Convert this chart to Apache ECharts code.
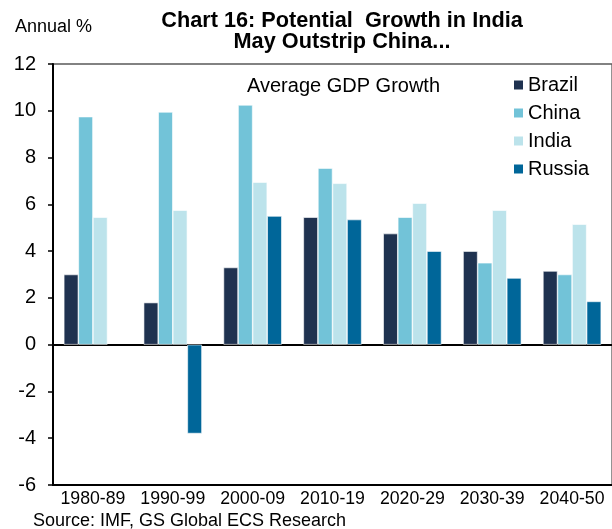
<!DOCTYPE html>
<html>
<head>
<meta charset="utf-8">
<script src="https://cdn.jsdelivr.net/npm/echarts@6/dist/echarts.min.js"></script>
<style>
  html, body { margin: 0; padding: 0; background: #fff; }
  #chart { width: 612px; height: 529px; }
</style>
</head>
<body>
<div id="chart"></div>
<script>
// Decades shown on the category axis
const periods = ['1980-89', '1990-99', '2000-09', '2010-19', '2020-29', '2030-39', '2040-50'];

// Average annual GDP growth, %
const brazil = [3.0, 1.8, 3.3, 5.45, 4.75, 4.0, 3.15];
const china  = [9.75, 9.95, 10.25, 7.55, 5.45, 3.5, 3.0];
const india  = [5.45, 5.75, 6.95, 6.9, 6.05, 5.75, 5.15];
const russia = [null, -3.8, 5.5, 5.35, 4.0, 2.85, 1.85];

// Value axis range and step
const yMin = -6;
const yMax = 12;
const yStep = 2;

const FONT = 'Liberation Sans, Arial, sans-serif';

const chart = echarts.init(document.getElementById('chart'), null, { renderer: 'canvas' });

function barSeries(name, data, color) {
  return {
    name: name,
    type: 'bar',
    data: data,
    xAxisIndex: 0,
    barGap: '0%',
    barCategoryGap: '27%',
    itemStyle: { color: color, borderColor: '#ffffff', borderWidth: 0.6 },
    emphasis: { disabled: true }
  };
}

chart.setOption({
  animation: false,
  backgroundColor: '#ffffff',
  textStyle: { fontFamily: FONT },
  title: [
    {
      text: 'Chart 16: Potential  Growth in India\nMay Outstrip China...',
      left: 337,
      top: 5,
      textAlign: 'center',
      textStyle: { fontFamily: FONT, fontSize: 21.7, fontWeight: 'bold', color: '#000', lineHeight: 21.5 }
    },
    {
      text: 'Annual %',
      left: 10,
      top: 13,
      textStyle: { fontFamily: FONT, fontSize: 18, fontWeight: 'normal', color: '#000' }
    },
    {
      text: 'Average GDP Growth',
      left: 242,
      top: 71,
      textStyle: { fontFamily: FONT, fontSize: 20, fontWeight: 'normal', color: '#000' }
    },
    {
      text: 'Source: IMF, GS Global ECS Research',
      left: 28,
      top: 507,
      textStyle: { fontFamily: FONT, fontSize: 18, fontWeight: 'normal', color: '#000' }
    }
  ],
  legend: {
    orient: 'vertical',
    left: 512,
    top: 75,
    padding: 0,
    itemWidth: 11,
    itemHeight: 11,
    itemGap: 8,
    icon: 'rect',
    textStyle: { fontFamily: FONT, fontSize: 20, lineHeight: 20, color: '#000', padding: [0, 0, 0, -1] },
    data: ['Brazil', 'China', 'India', 'Russia']
  },
  grid: {
    left: 53,
    top: 64,
    right: -2,
    bottom: 44,
    show: true,
    borderColor: '#5a5a5a',
    borderWidth: 1.3,
    backgroundColor: 'transparent'
  },
  xAxis: [
    {
      type: 'category',
      data: periods,
      position: 'bottom',
      axisLine: { onZero: false, lineStyle: { color: '#000', width: 2 } },
      axisTick: { show: false },
      axisLabel: { fontFamily: FONT, fontSize: 17.7, color: '#000', margin: 5, interval: 0 }
    },
    {
      // zero baseline across the plot
      type: 'category',
      data: periods,
      position: 'bottom',
      axisLine: { onZero: true, lineStyle: { color: '#000', width: 2 } },
      axisTick: { show: false },
      axisLabel: { show: false }
    }
  ],
  yAxis: {
    type: 'value',
    min: yMin,
    max: yMax,
    interval: yStep,
    axisLine: { show: true, lineStyle: { color: '#000', width: 2 } },
    axisTick: { show: true, length: 5, lineStyle: { color: '#000', width: 1.5 } },
    axisLabel: { fontFamily: FONT, fontSize: 20, color: '#000', margin: 17 },
    splitLine: { show: false }
  },
  series: [
    barSeries('Brazil', brazil, '#1f3250'),
    barSeries('China', china, '#72c3d8'),
    barSeries('India', india, '#bce3eb'),
    barSeries('Russia', russia, '#006699')
  ]
});
</script>
</body>
</html>
